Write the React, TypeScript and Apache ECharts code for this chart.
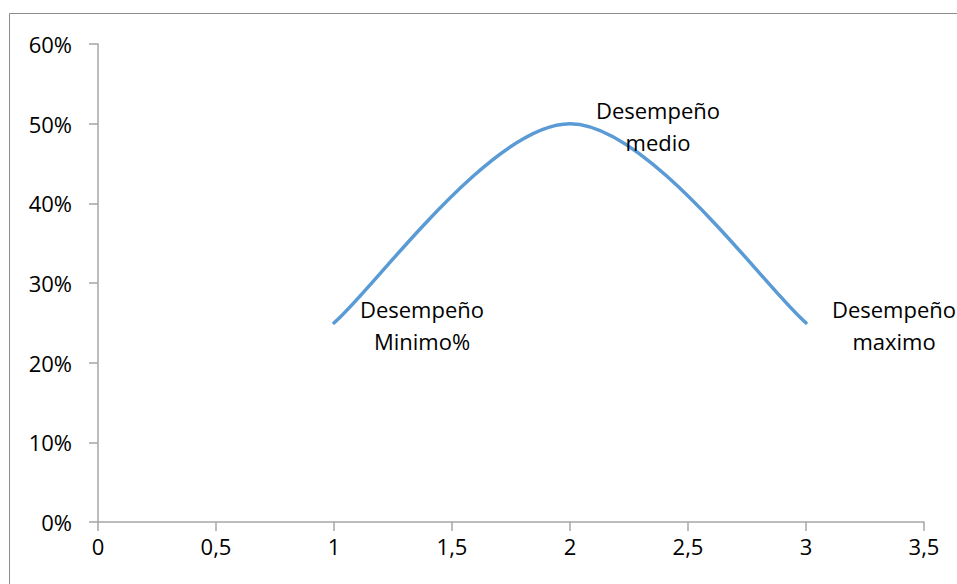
import React, { useEffect, useRef } from "react";
import * as echarts from "echarts";

const xValues = [1, 2, 3];
const yValues = [0.25, 0.5, 0.25];
const pointLabels = ["Desempeño\nMinimo%", "Desempeño\nmedio", "Desempeño\nmaximo"];

const FONT = "'Open Sans', sans-serif";

export default function App() {
  const ref = useRef<HTMLDivElement>(null);
  useEffect(() => {
    document.body.style.margin = "0";
    const chart = echarts.init(ref.current!, null, { renderer: "svg" });
    const data = xValues.map((x, i) => [x, yValues[i]]);
    chart.setOption({
      animation: false,
      graphic: [
        {
          type: "rect",
          shape: { x: 9.5, y: 13.5, width: 1200, height: 1200 },
          style: { fill: "none", stroke: "#8c8c8c", lineWidth: 1 },
          silent: true,
        },
      ],
      grid: { left: 98, right: 33, top: 44, bottom: 62 },
      xAxis: {
        type: "value",
        min: 0,
        max: 3.5,
        interval: 0.5,
        splitLine: { show: false },
        axisLine: { show: true, onZero: false, lineStyle: { color: "#a6a6a6", width: 1.5 } },
        axisTick: { show: true, length: 9, lineStyle: { color: "#a6a6a6", width: 1.5 } },
        axisLabel: {
          margin: 13,
          color: "#000",
          fontSize: 22,
          fontFamily: FONT,
          formatter: (v: number) => String(v).replace(".", ","),
        },
      },
      yAxis: {
        type: "value",
        min: 0,
        max: 0.6,
        interval: 0.1,
        splitLine: { show: false },
        axisLine: { show: true, lineStyle: { color: "#a6a6a6", width: 1.5 } },
        axisTick: { show: true, length: 9, lineStyle: { color: "#a6a6a6", width: 1.5 } },
        axisLabel: {
          margin: 26,
          color: "#000",
          fontSize: 22,
          fontFamily: FONT,
          formatter: (v: number) => Math.round(v * 100) + "%",
        },
      },
      series: [
        {
          type: "custom",
          data: data,
          renderItem: (params: any, api: any) => {
            if (params.dataIndex !== 0) return null;
            const pts = data.map((d) => api.coord(d));
            const n = pts.length;
            const P = (i: number) => pts[Math.max(0, Math.min(n - 1, i))];
            let d = `M${pts[0][0]},${pts[0][1]}`;
            for (let i = 0; i < n - 1; i++) {
              const p0 = P(i - 1), p1 = P(i), p2 = P(i + 1), p3 = P(i + 2);
              const c1 = [p1[0] + (p2[0] - p0[0]) / 6, p1[1] + (p2[1] - p0[1]) / 6];
              const c2 = [p2[0] - (p3[0] - p1[0]) / 6, p2[1] - (p3[1] - p1[1]) / 6];
              d += ` C${c1[0]},${c1[1]} ${c2[0]},${c2[1]} ${p2[0]},${p2[1]}`;
            }
            return {
              type: "path",
              shape: { pathData: d },
              style: { fill: "none", stroke: "#5b9bd5", lineWidth: 3.5, lineCap: "round" },
            };
          },
          silent: true,
          z: 2,
        },
        {
          type: "scatter",
          data: data,
          symbolSize: 2,
          itemStyle: { color: "rgba(0,0,0,0)", opacity: 1 },
          label: {
            show: true,
            position: "inside",
            align: "center",
            verticalAlign: "middle",
            offset: [88, 2],
            color: "#000",
            opacity: 1,
            textBorderWidth: 0,
            textBorderColor: "transparent",
            fontSize: 22,
            lineHeight: 32,
            fontFamily: FONT,
            formatter: (p: any) => pointLabels[p.dataIndex],
          },
          z: 3,
        },
      ],
    });
    return () => chart.dispose();
  }, []);
  return <div ref={ref} style={{ width: 957, height: 584 }} />;
}
